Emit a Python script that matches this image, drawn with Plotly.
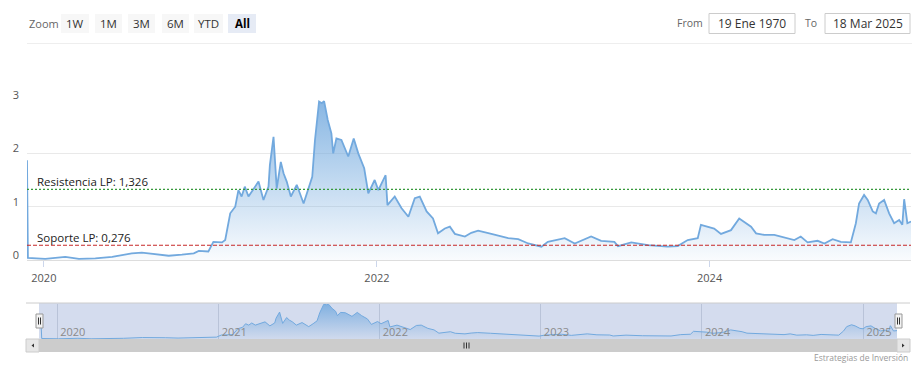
import plotly.graph_objects as go

W, H = 921, 369
def fx(p): return p / W
def fy(p): return 1 - p / H

dates = [
    "2019-11-25", "2019-11-27", "2020-01-04", "2020-02-17", "2020-03-18", "2020-04-23",
    "2020-05-30", "2020-07-12", "2020-08-03", "2020-09-02", "2020-10-01", "2020-10-30",
    "2020-11-25", "2020-12-06", "2020-12-27", "2021-01-07", "2021-01-26", "2021-02-02",
    "2021-02-13", "2021-02-24", "2021-03-03", "2021-03-10", "2021-03-17", "2021-03-25",
    "2021-04-16", "2021-04-27", "2021-05-08", "2021-05-11", "2021-05-19", "2021-05-26",
    "2021-06-04", "2021-06-10", "2021-06-17", "2021-06-26", "2021-07-09", "2021-07-24",
    "2021-08-03", "2021-08-12", "2021-08-18", "2021-08-27", "2021-09-02", "2021-09-07",
    "2021-09-15", "2021-09-23", "2021-09-27", "2021-10-04", "2021-10-15", "2021-10-30",
    "2021-11-11", "2021-11-21", "2021-12-04", "2021-12-13", "2021-12-27", "2022-01-04",
    "2022-01-20", "2022-01-24", "2022-02-09", "2022-02-24", "2022-03-11", "2022-03-25",
    "2022-04-05", "2022-04-20", "2022-05-04", "2022-05-15", "2022-05-30", "2022-06-10",
    "2022-06-21", "2022-07-13", "2022-07-27", "2022-08-11", "2022-09-09", "2022-10-16",
    "2022-11-07", "2022-11-29", "2022-12-28", "2023-01-11", "2023-02-17", "2023-03-11",
    "2023-04-16", "2023-05-08", "2023-06-06", "2023-06-14", "2023-07-13", "2023-08-19",
    "2023-10-01", "2023-10-23", "2023-11-14", "2023-12-06", "2023-12-13", "2023-12-28",
    "2024-01-11", "2024-01-26", "2024-02-17", "2024-03-06", "2024-03-17", "2024-04-01",
    "2024-04-12", "2024-04-30", "2024-05-22", "2024-06-20", "2024-07-05", "2024-07-19",
    "2024-08-03", "2024-08-25", "2024-09-09", "2024-09-27", "2024-10-15", "2024-11-06",
    "2024-11-17", "2024-11-24", "2024-12-05", "2024-12-13", "2024-12-24", "2024-12-31",
    "2025-01-07", "2025-01-18", "2025-01-29", "2025-02-09", "2025-02-20", "2025-02-27",
    "2025-03-03", "2025-03-10", "2025-03-18",
]
prices = [
    1.87, 0.04, 0.02, 0.06, 0.02, 0.03,
    0.06, 0.125, 0.14, 0.11, 0.08, 0.10,
    0.125, 0.17, 0.16, 0.34, 0.33, 0.375,
    0.875, 1.0, 1.31, 1.19, 1.375, 1.19,
    1.47, 1.125, 1.375, 1.78, 2.31, 1.34,
    1.84, 1.625, 1.47, 1.19, 1.41, 1.06,
    1.31, 1.56, 2.25, 2.97, 2.94, 2.98,
    2.625, 2.375, 2.0, 2.28, 2.25, 1.94,
    2.28, 2.0, 1.72, 1.25, 1.5, 1.31,
    1.59, 1.03, 1.19, 0.97, 0.81, 1.16,
    1.19, 0.91, 0.78, 0.5, 0.59, 0.625,
    0.49, 0.44, 0.51, 0.55, 0.49, 0.41,
    0.39, 0.31, 0.25, 0.34, 0.41, 0.31,
    0.44, 0.36, 0.34, 0.26, 0.33, 0.28,
    0.25, 0.26, 0.375, 0.41, 0.66, 0.625,
    0.59, 0.49, 0.56, 0.78, 0.72, 0.625,
    0.5, 0.47, 0.47, 0.41, 0.375, 0.44,
    0.33, 0.36, 0.31, 0.39, 0.34, 0.33,
    0.69, 1.06, 1.22, 1.125, 0.91, 0.875,
    1.06, 1.125, 0.875, 0.69, 0.75, 0.66,
    1.14, 0.69, 0.72,
]
resistance = 1.326
support = 0.276
resistance_label = "Resistencia LP: 1,326"
support_label = "Soporte LP: 0,276"
y_ticks = [0, 1, 2, 3]
zoom_buttons = ["1W", "1M", "3M", "6M", "YTD", "All"]
from_text, to_text = "19 Ene 1970", "18 Mar 2025"
x_range = ["2019-11-25", "2025-03-18"]

FONT = "Open Sans"
LINE = "#72a9de"
grad = dict(type="vertical", start=0, stop=3,
            colorscale=[[0, "rgba(114,169,222,0.04)"], [1, "rgba(114,169,222,0.85)"]])

fig = go.Figure()
fig.add_trace(go.Scatter(x=dates, y=prices, mode="lines", line=dict(color=LINE, width=1.8),
                         fill="tozeroy", fillgradient=grad, xaxis="x", yaxis="y",
                         hoverinfo="skip", showlegend=False))
fig.add_trace(go.Scatter(x=dates, y=prices, mode="lines", line=dict(color=LINE, width=1),
                         fill="tozeroy", fillgradient=grad, xaxis="x2", yaxis="y2",
                         hoverinfo="skip", showlegend=False))

shapes = []
ann = []

# support / resistance lines
shapes.append(dict(type="line", xref="x domain", yref="y", x0=0, x1=1, y0=resistance, y1=resistance,
                   line=dict(color="#36993a", width=1.2, dash="2px,2px"), layer="above"))
shapes.append(dict(type="line", xref="x domain", yref="y", x0=0, x1=1, y0=support, y1=support,
                   line=dict(color="#c62828", width=1.1, dash="4px,2px"), layer="above"))
for txt, val in [(resistance_label, resistance), (support_label, support)]:
    ann.append(dict(text=txt, xref="paper", yref="y", x=fx(35), y=val, xanchor="left",
                    yanchor="bottom", yshift=-2, showarrow=False,
                    font=dict(family=FONT, size=11.5, color="#222")))

# top toolbar
ann.append(dict(text="Zoom", xref="paper", yref="paper", x=fx(27), y=fy(23), xanchor="left",
                yanchor="middle", showarrow=False, font=dict(family=FONT, size=11, color="#666")))
btn_x = [(61, 89), (95, 122), (128, 155), (162, 189), (194, 223), (228, 256)]
for lab, (a, b) in zip(zoom_buttons, btn_x):
    active = lab == "All"
    shapes.append(dict(type="rect", xref="paper", yref="paper", x0=fx(a), x1=fx(b), y0=fy(33), y1=fy(14),
                       fillcolor="#e6ebf5" if active else "#f7f7f7", line=dict(width=0), layer="above"))
    ann.append(dict(text=f"<b>{lab}</b>" if active else lab, xref="paper", yref="paper",
                    x=fx((a + b) / 2), y=fy(23.5), xanchor="center", yanchor="middle", showarrow=False,
                    font=dict(family=FONT, size=11.5, color="#000" if active else "#333")))
shapes.append(dict(type="line", xref="paper", yref="paper", x0=fx(27), x1=fx(912), y0=fy(43.5), y1=fy(43.5),
                   line=dict(color="#eeeeee", width=1)))

ann.append(dict(text="From", xref="paper", yref="paper", x=fx(690), y=fy(23), xanchor="center",
                yanchor="middle", showarrow=False, font=dict(family=FONT, size=10.5, color="#666")))
ann.append(dict(text="To", xref="paper", yref="paper", x=fx(811), y=fy(23), xanchor="center",
                yanchor="middle", showarrow=False, font=dict(family=FONT, size=10.5, color="#666")))
for (a, b), txt in [((709, 795), from_text), ((825, 910), to_text)]:
    shapes.append(dict(type="rect", xref="paper", yref="paper", x0=fx(a), x1=fx(b), y0=fy(33.5), y1=fy(13.5),
                       fillcolor="white", line=dict(color="#cccccc", width=1), layer="above"))
    ann.append(dict(text=txt, xref="paper", yref="paper", x=fx((a + b) / 2), y=fy(23.5), xanchor="center",
                    yanchor="middle", showarrow=False, font=dict(family=FONT, size=12, color="#333")))

# navigator background and outline
shapes.append(dict(type="rect", xref="paper", yref="paper", x0=fx(39), x1=fx(897), y0=fy(339), y1=fy(303),
                   fillcolor="rgba(204,214,235,0.85)", line=dict(width=0), layer="below"))
shapes.append(dict(type="line", xref="paper", yref="paper", x0=fx(26), x1=fx(910), y0=fy(303), y1=fy(303),
                   line=dict(color="#cccccc", width=1), layer="above"))
# scrollbar
shapes.append(dict(type="rect", xref="paper", yref="paper", x0=fx(26), x1=fx(910), y0=fy(352), y1=fy(339),
                   fillcolor="#f2f2f2", line=dict(width=0), layer="above"))
shapes.append(dict(type="rect", xref="paper", yref="paper", x0=fx(39), x1=fx(897), y0=fy(352), y1=fy(339),
                   fillcolor="#cccccc", line=dict(width=0), layer="above"))
for a, b in [(26, 39), (897, 910)]:
    shapes.append(dict(type="rect", xref="paper", yref="paper", x0=fx(a), x1=fx(b), y0=fy(352), y1=fy(339),
                       fillcolor="#e6e6e6", line=dict(color="#cccccc", width=1), layer="above"))
shapes.append(dict(type="path", xref="paper", yref="paper",
                   path=f"M {fx(34)} {fy(343.5)} L {fx(31.5)} {fy(345.5)} L {fx(34)} {fy(347.5)} Z",
                   fillcolor="#333", line=dict(width=0), layer="above"))
shapes.append(dict(type="path", xref="paper", yref="paper",
                   path=f"M {fx(902)} {fy(343.5)} L {fx(904.5)} {fy(345.5)} L {fx(902)} {fy(347.5)} Z",
                   fillcolor="#333", line=dict(width=0), layer="above"))
for gx in [464, 466.5, 469]:
    shapes.append(dict(type="line", xref="paper", yref="paper", x0=fx(gx), x1=fx(gx), y0=fy(342.5), y1=fy(348.5),
                       line=dict(color="#333", width=1), layer="above"))
# navigator handles
for a in [36, 895]:
    shapes.append(dict(type="rect", xref="paper", yref="paper", x0=fx(a), x1=fx(a + 7), y0=fy(328), y1=fy(314),
                       fillcolor="#f2f2f2", line=dict(color="#999999", width=1), layer="above"))
    for gx in [a + 2.5, a + 4.5]:
        shapes.append(dict(type="line", xref="paper", yref="paper", x0=fx(gx), x1=fx(gx), y0=fy(317.5), y1=fy(324.5),
                           line=dict(color="#333", width=1), layer="above"))

ann.append(dict(text="Estrategias de Inversión", xref="paper", yref="paper", x=fx(910), y=fy(357.5),
                xanchor="right", yanchor="middle", showarrow=False,
                font=dict(family=FONT, size=8.5, color="#999")))

fig.update_layout(
    width=W, height=H, autosize=False,
    margin=dict(l=0, r=0, t=0, b=0, pad=0, autoexpand=False),
    paper_bgcolor="white", plot_bgcolor="rgba(0,0,0,0)",
    font=dict(family=FONT, size=11, color="#666"),
    shapes=shapes, annotations=ann, hovermode=False,
    xaxis=dict(domain=[fx(27), fx(911)], anchor="y", range=x_range, type="date",
               showgrid=False, showline=True, linecolor="#dddddd", linewidth=1,
               ticks="outside", ticklen=6, tickcolor="#ccd6eb", tick0="2020-01-01", dtick="M24",
               tickformat="%Y", ticklabelstandoff=2, automargin=False,
               tickfont=dict(family=FONT, size=11, color="#555"), zeroline=False,
               fixedrange=True),
    yaxis=dict(domain=[fy(260), fy(100)], anchor="x", range=[0, 3], tickvals=y_ticks,
               showgrid=True, gridcolor="#e9e9e9", gridwidth=1, zeroline=False, showline=False,
               ticklabelstandoff=7, ticklabelshift=-5, automargin=False,
               tickfont=dict(family=FONT, size=11, color="#555"), fixedrange=True),
    xaxis2=dict(domain=[fx(39.5), fx(897)], anchor="y2", range=["2019-11-22", "2025-03-18"], type="date",
                showgrid=True, gridcolor="#b9c3d8", tick0="2020-01-01", dtick="M12", tickformat="%Y",
                ticklabelposition="inside right", ticks="", showline=False, zeroline=False,
                ticklabelstandoff=-5, ticklabelshift=3, automargin=False,
                tickfont=dict(family=FONT, size=11, color="#8a8a8a"), fixedrange=True),
    yaxis2=dict(domain=[fy(339), fy(304)], anchor="x2", range=[0, 3.0], showgrid=False,
                showticklabels=False, zeroline=False, showline=False, automargin=False,
                fixedrange=True),
)

fig.write_html("out.html", config={"displayModeBar": False, "responsive": False},
               post_script="document.body.style.margin='0';document.body.style.overflow='hidden';")
